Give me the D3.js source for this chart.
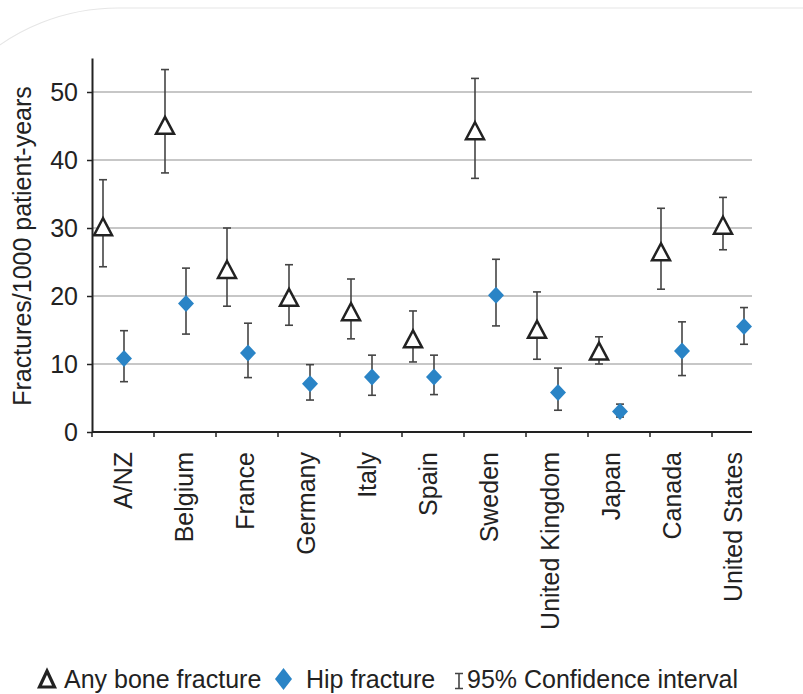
<!DOCTYPE html>
<html>
<head>
<meta charset="utf-8">
<script src="https://cdn.jsdelivr.net/npm/d3@7"></script>
<style>
  body { margin: 0; background: #fff; }
  svg text { font-family: "Liberation Sans", Arial, sans-serif; fill: #222; }
</style>
</head>
<body>
<svg id="chart" width="803" height="694"></svg>
<script>
var countries = ["A/NZ", "Belgium", "France", "Germany", "Italy", "Spain", "Sweden",
                 "United Kingdom", "Japan", "Canada", "United States"];

// any bone fracture, per 1000 patient-years
var anyRate = [30.2, 45.1, 23.9, 19.8, 17.7, 13.7, 44.3, 15.1, 11.9, 26.5, 30.4];
var anyLow  = [24.3, 38.1, 18.5, 15.7, 13.7, 10.3, 37.3, 10.7, 10.0, 21.0, 26.8];
var anyHigh = [37.1, 53.3, 30.0, 24.6, 22.5, 17.8, 52.0, 20.6, 14.0, 32.9, 34.5];

// hip fracture
var hipRate = [10.8, 18.9, 11.6, 7.1, 8.1, 8.1, 20.1, 5.8, 3.0, 11.9, 15.5];
var hipLow  = [7.4, 14.4, 8.0, 4.7, 5.4, 5.5, 15.6, 3.2, 2.2, 8.3, 12.9];
var hipHigh = [14.9, 24.1, 16.0, 9.9, 11.3, 11.3, 25.4, 9.4, 4.1, 16.2, 18.3];

var yTicks = [0, 10, 20, 30, 40, 50];

var svg = d3.select("#chart"),
    plotLeft = 92, plotRight = 752, plotBottom = 432, plotTop = 58;

// faint rounded frame behind the figure
svg.append("rect")
    .attr("x", -89).attr("y", 8)
    .attr("width", 2000).attr("height", 1000)
    .attr("rx", 207)
    .attr("fill", "none")
    .attr("stroke", "#e6e6e6")
    .attr("stroke-width", 1.2);

var x = d3.scaleBand()
    .domain(countries)
    .range([plotLeft, plotLeft + 62 * countries.length]);
var xLabel = d3.scalePoint()
    .domain(countries)
    .range([123, 733]);
var y = d3.scaleLinear()
    .domain([0, 55])
    .range([plotBottom, plotTop]);

var rows = countries.map(function(c, i) {
  return {
    name: c,
    any: anyRate[i], anyLo: anyLow[i], anyHi: anyHigh[i],
    hip: hipRate[i], hipLo: hipLow[i], hipHi: hipHigh[i]
  };
});

// gridlines
svg.append("g").selectAll("line")
    .data(yTicks.filter(function(d) { return d > 0; }))
  .enter().append("line")
    .attr("x1", plotLeft).attr("x2", plotRight)
    .attr("y1", function(d) { return y(d); })
    .attr("y2", function(d) { return y(d); })
    .attr("stroke", "#b4b4b4")
    .attr("stroke-width", 1.5);

// y axis
var yAxis = svg.append("g")
    .attr("transform", "translate(" + plotLeft + ",0)")
    .call(d3.axisLeft(y).tickValues(yTicks).tickSize(5).tickSizeOuter(0).tickPadding(9));
yAxis.select(".domain").attr("stroke", "#222").attr("stroke-width", 2);
yAxis.selectAll(".tick line").attr("stroke", "#222").attr("stroke-width", 1.5);
yAxis.selectAll(".tick text")
    .attr("font-size", 25)
    .attr("font-family", "Liberation Sans, Arial, sans-serif")
    .attr("fill", "#222");

svg.append("text")
    .attr("transform", "translate(31,246) rotate(-90)")
    .attr("text-anchor", "middle")
    .attr("font-size", 25)
    .text("Fractures/1000 patient-years");

// x axis
svg.append("line")
    .attr("x1", plotLeft).attr("x2", plotRight)
    .attr("y1", plotBottom).attr("y2", plotBottom)
    .attr("stroke", "#222").attr("stroke-width", 2);
svg.append("g").selectAll("line")
    .data(countries)
  .enter().append("line")
    .attr("x1", function(d) { return x(d); })
    .attr("x2", function(d) { return x(d); })
    .attr("y1", plotBottom).attr("y2", plotBottom + 5)
    .attr("stroke", "#222").attr("stroke-width", 1.5);
svg.append("g").selectAll("text")
    .data(countries)
  .enter().append("text")
    .attr("transform", function(d) { return "translate(" + xLabel(d) + ",452) rotate(-90)"; })
    .attr("text-anchor", "end")
    .attr("dy", "0.35em")
    .attr("font-size", 25)
    .text(function(d) { return d; });

// error bars
function errorBar(g, cx, lo, hi) {
  g.append("line")
      .attr("x1", cx).attr("x2", cx)
      .attr("y1", y(lo)).attr("y2", y(hi));
  g.append("line")
      .attr("x1", cx - 4).attr("x2", cx + 4)
      .attr("y1", y(hi)).attr("y2", y(hi));
  g.append("line")
      .attr("x1", cx - 4).attr("x2", cx + 4)
      .attr("y1", y(lo)).attr("y2", y(lo));
}

var bars = svg.append("g")
    .attr("stroke", "#444")
    .attr("stroke-width", 1.6);
rows.forEach(function(d) {
  errorBar(bars, x(d.name) + 11, d.anyLo, d.anyHi);
  errorBar(bars, x(d.name) + 32, d.hipLo, d.hipHi);
});

var triPath = "M0,-8.5L9,8.5L-9,8.5Z";
var diaPath = "M0,-8.5L8,0L0,8.5L-8,0Z";

svg.append("g").selectAll("path")
    .data(rows)
  .enter().append("path")
    .attr("d", triPath)
    .attr("transform", function(d) { return "translate(" + (x(d.name) + 11) + "," + y(d.any) + ")"; })
    .attr("fill", "#fff")
    .attr("stroke", "#222")
    .attr("stroke-width", 2.5);

svg.append("g").selectAll("path")
    .data(rows)
  .enter().append("path")
    .attr("d", diaPath)
    .attr("transform", function(d) { return "translate(" + (x(d.name) + 32) + "," + y(d.hip) + ")"; })
    .attr("fill", "#2a84c6");

// legend
var lg = svg.append("g");
lg.append("path")
    .attr("d", "M47,671L54.5,687L39.5,687Z")
    .attr("fill", "none")
    .attr("stroke", "#222")
    .attr("stroke-width", 3.2);
lg.append("text").attr("x", 64).attr("y", 688).attr("font-size", 25).text("Any bone fracture");
lg.append("path")
    .attr("d", "M283.5,668L292,679L283.5,690L275,679Z")
    .attr("fill", "#2a84c6");
lg.append("text").attr("x", 306).attr("y", 688).attr("font-size", 25).text("Hip fracture");
lg.append("path")
    .attr("d", "M455,673.5H463M459,673.5V688.5M455,688.5H463")
    .attr("fill", "none")
    .attr("stroke", "#444")
    .attr("stroke-width", 1.6);
lg.append("text").attr("x", 467).attr("y", 688).attr("font-size", 25).text("95% Confidence interval");
</script>
</body>
</html>
